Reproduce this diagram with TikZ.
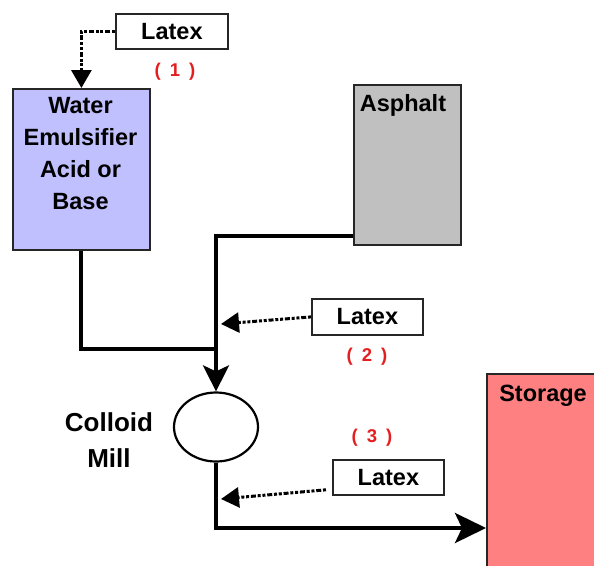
\documentclass[tikz,border=0pt]{standalone}
\usepackage{fontspec}
\setmainfont{Liberation Sans}
\usetikzlibrary{arrows.meta,shapes.geometric,calc}
\definecolor{waterfill}{RGB}{192,192,255}
\definecolor{asphfill}{RGB}{192,192,192}
\definecolor{storfill}{RGB}{255,128,128}
\definecolor{labred}{RGB}{228,30,30}
\begin{document}
\begin{tikzpicture}[x=1pt,y=-1pt,
  box/.style={draw=black!85, line width=1.8pt, inner sep=0pt},
  pipe/.style={line width=4pt, line join=miter},
  flow/.style={pipe, -{Stealth[width=26pt,length=26pt,inset=6pt]}},
  bigflow/.style={pipe, -{Stealth[width=30pt,length=31pt,inset=7pt]}},
  feed/.style={line width=3pt, dash pattern=on 3pt off 1.8pt on 5pt off 1.8pt on 3pt off 1.8pt,
    -{Triangle[width=20pt,length=18pt]}},
  lbl/.style={font=\bfseries\fontsize{23.5}{32}\selectfont, inner sep=0pt},
  num/.style={text=labred, font=\bfseries\fontsize{18.5}{20}\selectfont, inner sep=0pt}]
\useasboundingbox (0,0) rectangle (594,565);
\clip (0,0) rectangle (594,565);

% boxes
\node[box, fill=white, minimum width=112pt, minimum height=35pt, anchor=north west, lbl] (lx1) at (115,13) {Latex};
\node[box, fill=waterfill, minimum width=137pt, minimum height=161pt, anchor=north west] (water) at (12,88) {};
\node[lbl, align=center, anchor=north] (wtxt) at (80.5,97) {Water\\Emulsifier\\Acid or\\Base};
\node[box, fill=asphfill, minimum width=107pt, minimum height=160pt, anchor=north west] (asph) at (353,84) {};
\node[lbl, anchor=north] (atxt) at (403,94) {Asphalt};
\node[box, fill=white, minimum width=111pt, minimum height=36pt, anchor=north west, lbl] (lx2) at (311,298) {Latex};
\node[box, fill=white, minimum width=111pt, minimum height=35pt, anchor=north west, lbl] (lx3) at (332,459) {Latex};
\node[box, fill=storfill, minimum width=124pt, minimum height=210pt, anchor=north west] (stor) at (486,373) {};
\node[lbl, anchor=north] (stxt) at (543,385) {Storage};
\node[draw=black, line width=2.2pt, ellipse, minimum width=84pt, minimum height=69pt] (mill) at (216,427) {};
\node[lbl, align=center, font=\bfseries\fontsize{26}{36}\selectfont] (mtxt) at (109,440) {Colloid\\Mill};

% numbers
\node[num] (n1) at (175,72) {(\hspace{9pt}1\hspace{9pt})};
\node[num] (n2) at (367,357) {(\hspace{9pt}2\hspace{9pt})};
\node[num] (n3) at (372,438) {(\hspace{9pt}3\hspace{9pt})};

% pipes
\draw[pipe] (water.south) |- (mill.north |- 0,349);
\draw[flow] ($(asph.south west)+(0,-10)$) -| (mill.north);
\draw[bigflow] (mill.south) |- (stor.west |- 0,528);

% latex feeds
\coordinate (f2) at (221,324);
\coordinate (f3) at (221,499);
\draw[feed] (lx1.west) -| (water.north);
\draw[feed] (lx2.west) -- (f2);
\draw[feed] ($(lx3.south west)+(-6,-6)$) -- (f3);
\end{tikzpicture}
\end{document}
